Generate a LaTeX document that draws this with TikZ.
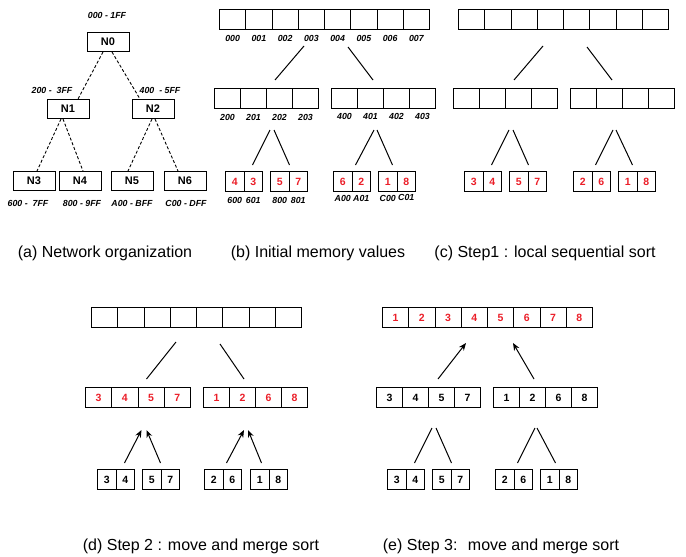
\documentclass[tikz,border=0pt]{standalone}
\usepackage{fontspec}
\setmainfont{Liberation Sans}
\usetikzlibrary{positioning,arrows.meta}
\definecolor{numred}{RGB}{235,30,40}

% one row of memory cells: [colour]{name}{x}{y}{cell width}{values}
\newcommand\cellrow[6][black]{%
  \foreach \v [count=\i] in {#6}
    \node[cell,text=#1,minimum width=#5pt,anchor=north west] (#2\i) at ({#3+(\i-1)*#5},#4) {\v};%
}

\begin{document}
\begin{tikzpicture}[x=1pt,y=-1pt,
  cell/.style={draw,line width=1pt,inner sep=0pt,minimum height=20pt,font=\bfseries\fontsize{10.5}{12}\selectfont},
  netnode/.style={draw,line width=1pt,minimum width=42pt,minimum height=19pt,inner sep=0pt,font=\bfseries\fontsize{11}{13}\selectfont},
  addr/.style={inner sep=0pt,font=\bfseries\itshape\fontsize{8.8}{10}\selectfont},
  tree/.style={line width=0.9pt,dash pattern=on 3pt off 2pt},
  link/.style={line width=1pt},
  arr/.style={line width=1pt,-{Stealth[length=7.5pt,width=6pt]}},
  subcap/.style={font=\fontsize{16}{19}\selectfont}
]
\useasboundingbox (0,0) rectangle (686,557);

% (a) network
\node[netnode] (N0) at (108,42) {N0};
\node[netnode] (N1) at (68,109) {N1};
\node[netnode] (N2) at (153,109) {N2};
\node[netnode] (N3) at (34,181) {N3};
\node[netnode] (N4) at (80,181) {N4};
\node[netnode] (N5) at (132,181) {N5};
\node[netnode] (N6) at (185,181) {N6};
\node[addr] (r0) at (107,15) {000 - 1FF};
\node[addr] (r1) at (52,90) {200 - \ 3FF};
\node[addr] (r2) at (160,90) {400 \ - 5FF};
\node[addr] (r3) at (28,203) {600 - \ 7FF};
\node[addr] (r4) at (82,203) {800 - 9FF};
\node[addr] (r5) at (132,203) {A00 - BFF};
\node[addr] (r6) at (186,203) {C00 - DFF};
\draw[tree] ([xshift=-5pt]N0.south) -- ([xshift=10pt]N1.north);
\draw[tree] ([xshift=4pt]N0.south) -- ([xshift=-13pt]N2.north);
\draw[tree] ([xshift=-7pt]N1.south) -- ([xshift=3pt]N3.north);
\draw[tree] ([xshift=-5pt]N1.south) -- ([xshift=3pt]N4.north);
\draw[tree] ([xshift=-1pt]N2.south) -- ([xshift=-4pt]N5.north);
\draw[tree] ([xshift=2pt]N2.south) -- ([xshift=-7pt]N6.north);

% (b) initial values
\cellrow{bt}{219}{9}{26.25}{{},{},{},{},{},{},{},{}}
\cellrow{bl}{214}{88}{26}{{},{},{},{}}
\cellrow{br}{331}{88}{26}{{},{},{},{}}
\cellrow[numred]{ba}{225}{171}{18.5}{4,3}
\cellrow[numred]{bb}{270}{171}{18.5}{5,7}
\cellrow[numred]{bc}{333}{171}{18.5}{6,2}
\cellrow[numred]{bd}{378}{171}{18.5}{1,8}
\foreach \t [count=\i] in {000,001,002,003,004,005,006,007}
  \node[addr,below=5pt of bt\i] (bta\i) {\t};
\foreach \t [count=\i] in {200,201,202,203}
  \node[addr,below=5pt of bl\i] (bla\i) {\t};
\foreach \t [count=\i] in {400,401,402,403}
  \node[addr,below=4pt of br\i] (bra\i) {\t};
\node[addr,below=5pt of ba1] (baa1) {600};
\node[addr,below=5pt of ba2] (baa2) {601};
\node[addr,below=5pt of bb1] (bba1) {800};
\node[addr,below=5pt of bb2] (bba2) {801};
\node[addr,below=3pt of bc1] (bca1) {A00};
\node[addr,below=3pt of bc2] (bca2) {A01};
\node[addr,below=3pt of bd1] (bda1) {C00};
\node[addr,below=2pt of bd2] (bda2) {C01};

% (c) local sort
\cellrow{ct}{458}{9}{26.25}{{},{},{},{},{},{},{},{}}
\cellrow{cl}{453}{88}{26}{{},{},{},{}}
\cellrow{cr}{570}{88}{26}{{},{},{},{}}
\cellrow[numred]{ca}{464}{171}{18.5}{3,4}
\cellrow[numred]{cb}{509}{171}{18.5}{5,7}
\cellrow[numred]{cc}{573}{171}{18.5}{2,6}
\cellrow[numred]{cd}{618}{171}{18.5}{1,8}

% tree lines of (b) and (c)
\foreach \p in {b,c} {
  \draw[link] ([xshift=-21pt,yshift=-16pt]\p t4.south east) -- ([xshift=8pt,yshift=8pt]\p l2.north east);
  \draw[link] ([xshift=23pt,yshift=-17pt]\p t4.south east) -- ([xshift=-11pt,yshift=8pt]\p r2.north east);
  \draw[link] ([xshift=3pt,yshift=-21pt]\p l2.south east) -- ([xshift=8pt,yshift=6pt]\p a1.north east);
  \draw[link] ([xshift=7pt,yshift=-21pt]\p l2.south east) -- ([yshift=6pt]\p b1.north east);
  \draw[link] ([xshift=-10pt,yshift=-21pt]\p r2.south east) -- ([xshift=3pt,yshift=6pt]\p c1.north east);
  \draw[link] ([xshift=-7pt,yshift=-21pt]\p r2.south east) -- ([xshift=-5pt,yshift=6pt]\p d1.north east);
}

% (d) step 2
\cellrow{dt}{91}{307}{26.25}{{},{},{},{},{},{},{},{}}
\cellrow[numred]{dl}{85}{387}{26.25}{3,4,5,7}
\cellrow[numred]{dr}{203}{387}{26}{1,2,6,8}
\cellrow{da}{97}{469}{18.5}{3,4}
\cellrow{db}{142}{469}{18.5}{5,7}
\cellrow{dc}{204}{469}{18.5}{2,6}
\cellrow{dd}{250}{469}{18.5}{1,8}
\draw[link] ([xshift=-21pt,yshift=-14pt]dt4.south east) -- ([xshift=8pt,yshift=8pt]dl2.north east);
\draw[link] ([xshift=23pt,yshift=-16pt]dt4.south east) -- ([xshift=-12pt,yshift=8pt]dr2.north east);
\draw[arr] ([xshift=8pt,yshift=6pt]da1.north east) -- ([xshift=3pt,yshift=-22pt]dl2.south east);
\draw[arr] ([xshift=-1pt,yshift=6pt]db1.north east) -- ([xshift=8pt,yshift=-22pt]dl2.south east);
\draw[arr] ([xshift=3pt,yshift=6pt]dc1.north east) -- ([xshift=-12pt,yshift=-22pt]dr2.south east);
\draw[arr] ([xshift=-8pt,yshift=6pt]dd1.north east) -- ([xshift=-8pt,yshift=-22pt]dr2.south east);

% (e) step 3
\cellrow[numred]{et}{382}{307}{26.25}{1,2,3,4,5,6,7,8}
\cellrow{el}{376}{387}{26}{3,4,5,7}
\cellrow{er}{493}{387}{26}{1,2,6,8}
\cellrow{ea}{387}{469}{18.5}{3,4}
\cellrow{eb}{432}{469}{18.5}{5,7}
\cellrow{ec}{495}{469}{18.5}{2,6}
\cellrow{ed}{540}{469}{18.5}{1,8}
\draw[arr] ([xshift=9pt,yshift=8pt]el2.north east) -- ([xshift=-22pt,yshift=-15pt]et4.south east);
\draw[arr] ([xshift=-12pt,yshift=8pt]er2.north east) -- ([xshift=25pt,yshift=-15pt]et4.south east);
\draw[link] ([xshift=3pt,yshift=-20pt]el2.south east) -- ([xshift=8pt,yshift=6pt]ea1.north east);
\draw[link] ([xshift=7pt,yshift=-20pt]el2.south east) -- ([yshift=6pt]eb1.north east);
\draw[link] ([xshift=-11pt,yshift=-20pt]er2.south east) -- ([xshift=3pt,yshift=6pt]ec1.north east);
\draw[link] ([xshift=-9pt,yshift=-20pt]er2.south east) -- ([xshift=-4pt,yshift=6pt]ed1.north east);

% captions
\node[subcap] (capa) at (105,253) {(a) Network organization};
\node[subcap] (capb) at (318,253) {(b) Initial memory values};
\node[subcap] (capc) at (545,253) {(c) Step1 : local sequential sort};
\node[subcap] (capd) at (201,546) {(d) Step 2 : move and merge sort};
\node[subcap] (cape) at (501,546) {(e) Step 3: \ move and merge sort};
\end{tikzpicture}
\end{document}
